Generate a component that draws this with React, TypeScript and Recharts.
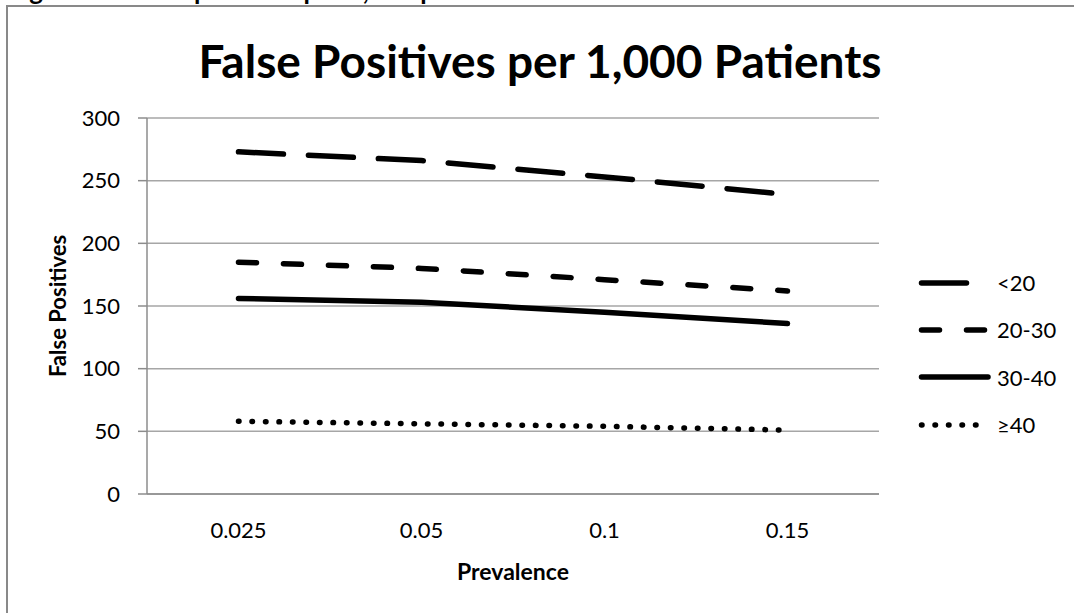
import React from "react";
import { LineChart, Line, XAxis, YAxis, CartesianGrid, Legend } from "recharts";

// Prevalence categories along the x axis
const prevalence = ["0.025", "0.05", "0.1", "0.15"];

// False positives per 1,000 patients, one array per BMI group
const bmiUnder20 = [273, 266, 253, 239];
const bmi20to30 = [185, 180, 171, 162];
const bmi30to40 = [156, 153, 145, 136];
const bmi40Plus = [58, 56, 54, 51];

const yTicks = [0, 50, 100, 150, 200, 250, 300];
// category boundaries, used only for the tick marks under the x axis
const boundaryTicks = [0, 1, 2, 3, 4];

const SERIES = [
  { key: "under20", name: "<20", dash: "45 25" },
  { key: "b20to30", name: "20-30", dash: "18 27" },
  { key: "b30to40", name: "30-40", dash: undefined },
  { key: "over40", name: "≥40", dash: "0.5 13" },
];

const data = prevalence.map((p, i) => ({
  prevalence: p,
  under20: bmiUnder20[i],
  b20to30: bmi20to30[i],
  b30to40: bmi30to40[i],
  over40: bmi40Plus[i],
}));

const FONT = "Lato, 'Open Sans', sans-serif";
const AXIS_GRAY = "#8c8c8c";
const GRID_GRAY = "#a6a6a6";
const LINE_W = 5.5;
const TICK_FONT = 22;

function LegendBox() {
  return (
    <div style={{ fontFamily: FONT }}>
      {SERIES.map((s) => (
        <div
          key={s.key}
          style={{ display: "flex", alignItems: "center", height: 47.3 }}
        >
          <svg width={74} height={12} style={{ display: "block" }}>
            <line
              x1={4.5}
              y1={6}
              x2={71}
              y2={6}
              stroke="#000"
              strokeWidth={LINE_W}
              strokeLinecap="round"
              strokeDasharray={s.dash}
            />
          </svg>
          <span style={{ fontSize: TICK_FONT, marginLeft: 6, color: "#000" }}>
            {s.name}
          </span>
        </div>
      ))}
    </div>
  );
}

export default function App() {
  return (
    <div
      style={{
        position: "absolute",
        left: 0,
        top: 0,
        width: 1074,
        height: 613,
        overflow: "hidden",
        background: "#fff",
        fontFamily: FONT,
      }}
    >
      {/* chart frame */}
      <div
        style={{
          position: "absolute",
          left: 6,
          top: 5,
          width: 1200,
          height: 800,
          border: "2px solid #898989",
        }}
      />

      <div style={{ position: "absolute", left: 0, top: 0 }}>
        <LineChart
          width={1074}
          height={613}
          data={data}
          margin={{ top: 118, right: 195, bottom: 117, left: 0 }}
        >
          <CartesianGrid
            vertical={false}
            stroke={GRID_GRAY}
            strokeWidth={1.5}
          />
          <XAxis
            dataKey="prevalence"
            scale="band"
            height={1}
            tickLine={false}
            tickSize={0}
            tickMargin={28}
            axisLine={{ stroke: AXIS_GRAY, strokeWidth: 1.5 }}
            tick={{ fill: "#000", fontSize: TICK_FONT }}
            interval={0}
            label={{
              content: ({ viewBox }: any) => (
                <text
                  x={viewBox.x + viewBox.width / 2}
                  y={580}
                  textAnchor="middle"
                  fontSize={23}
                  fontWeight={700}
                  fill="#000"
                >
                  Prevalence
                </text>
              ),
            }}
          />
          <XAxis
            xAxisId="edges"
            type="number"
            domain={[0, 4]}
            ticks={boundaryTicks}
            allowDataOverflow
            height={1}
            tick={false}
            tickSize={8}
            axisLine={false}
            tickLine={{ stroke: AXIS_GRAY, strokeWidth: 1.5 }}
          />
          <YAxis
            width={147}
            domain={[0, 300]}
            ticks={yTicks}
            interval={0}
            tickSize={9}
            tickMargin={18}
            axisLine={{ stroke: AXIS_GRAY, strokeWidth: 1.5 }}
            tickLine={{ stroke: AXIS_GRAY, strokeWidth: 1.5 }}
            tick={{ fill: "#000", fontSize: TICK_FONT }}
            label={{
              content: ({ viewBox }: any) => {
                const cx = 57;
                const cy = viewBox.y + viewBox.height / 2;
                return (
                  <text
                    x={cx}
                    y={cy}
                    transform={`rotate(-90 ${cx} ${cy})`}
                    textAnchor="middle"
                    dominantBaseline="central"
                    fontSize={22}
                    fontWeight={700}
                    fill="#000"
                  >
                    False Positives
                  </text>
                );
              },
            }}
          />
          {SERIES.map((s) => (
            <Line
              key={s.key}
              dataKey={s.key}
              name={s.name}
              type="linear"
              stroke="#000"
              strokeWidth={LINE_W}
              strokeLinecap="round"
              strokeDasharray={s.dash}
              dot={false}
              activeDot={false}
              isAnimationActive={false}
            />
          ))}
          <Legend
            layout="horizontal"
            verticalAlign="middle"
            align="center"
            wrapperStyle={{ left: 917, top: 259, width: 150 }}
            content={() => <LegendBox />}
          />
        </LineChart>
      </div>

      {/* caption above the frame (mostly cut off) and the chart title */}
      <svg
        width={1074}
        height={100}
        style={{ position: "absolute", left: 0, top: 0, pointerEvents: "none" }}
      >
        <text x={8} y={0} fontSize={26} fontWeight={700} fill="#000">
          Figure 12. False positives per 1,000 patients
        </text>
        <text
          x={540}
          y={78}
          textAnchor="middle"
          fontSize={46}
          fontWeight={700}
          fill="#000"
        >
          False Positives per 1,000 Patients
        </text>
      </svg>
    </div>
  );
}
